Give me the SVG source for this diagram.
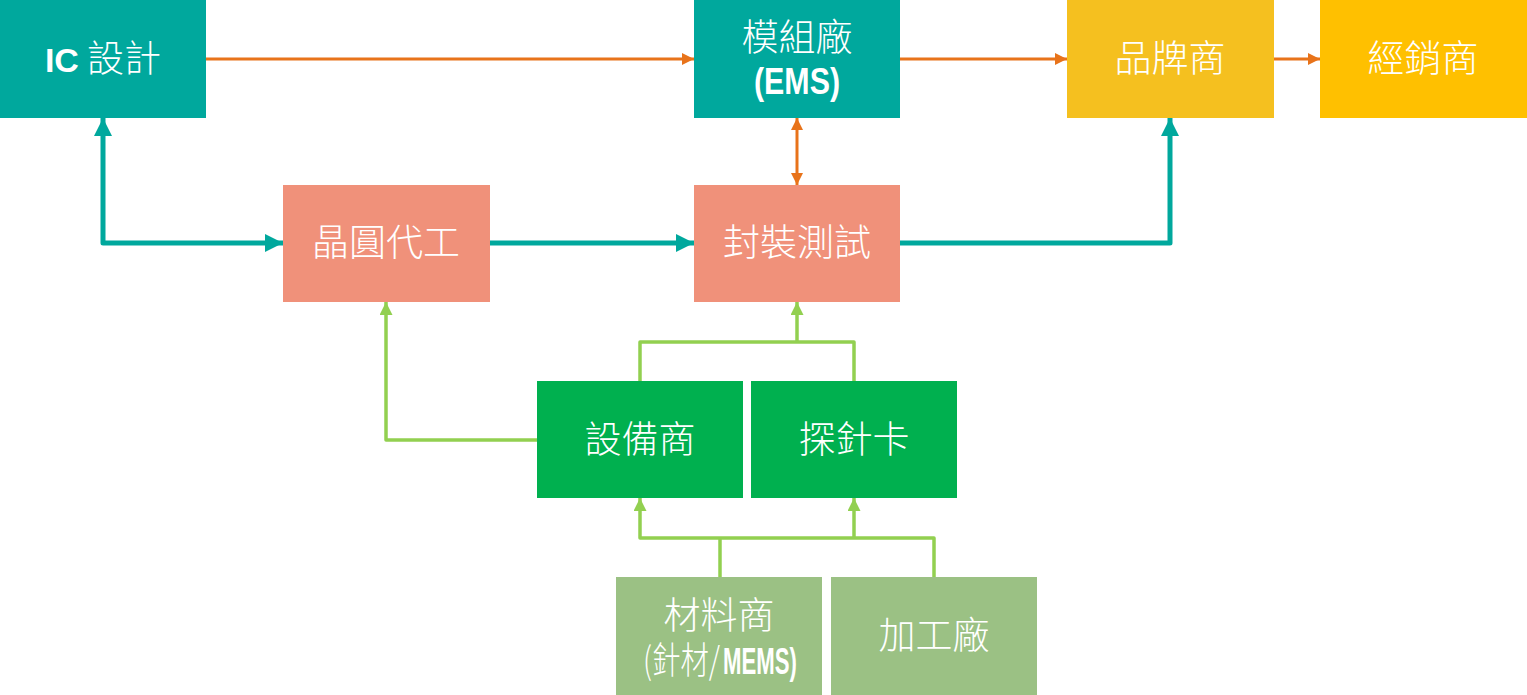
<svg xmlns="http://www.w3.org/2000/svg" width="1527" height="695" viewBox="0 0 1527 695">
<defs>
<style>
.t{fill:#fff;font-family:"Noto Sans CJK TC","Noto Sans CJK SC",sans-serif;font-size:37px;text-anchor:middle;font-weight:300}
.b{font-family:"Liberation Sans","Noto Sans CJK TC",sans-serif;font-weight:bold}
.o{stroke:#E8731A;stroke-width:3;fill:none}
.tl{stroke:#00A89D;stroke-width:5;fill:none;stroke-linejoin:round}
.g{stroke:#92D050;stroke-width:3.5;fill:none;stroke-linejoin:round}
</style>
<marker id="mo" markerWidth="12" markerHeight="12" refX="12" refY="6" orient="auto-start-reverse" markerUnits="userSpaceOnUse"><path d="M0,0L12,6L0,12z" fill="#E8731A"/></marker>
<marker id="mt" markerWidth="18" markerHeight="18" refX="18" refY="9" orient="auto-start-reverse" markerUnits="userSpaceOnUse"><path d="M0,0L18,9L0,18z" fill="#00A89D"/></marker>
<marker id="mg" markerWidth="13" markerHeight="13" refX="13" refY="6.5" orient="auto-start-reverse" markerUnits="userSpaceOnUse"><path d="M0,0L13,6.5L0,13z" fill="#92D050"/></marker>
</defs>
<g id="connectors">
<path class="o" d="M206,59H694" marker-end="url(#mo)"/>
<path class="o" d="M900,59H1067" marker-end="url(#mo)"/>
<path class="o" d="M1274,59H1320" marker-end="url(#mo)"/>
<path class="o" d="M797,118V185" marker-start="url(#mo)" marker-end="url(#mo)"/>
<path class="tl" d="M103,118V243H283" marker-start="url(#mt)" marker-end="url(#mt)"/>
<path class="tl" d="M490,243H694" marker-end="url(#mt)"/>
<path class="tl" d="M900,243H1170V118" marker-end="url(#mt)"/>
<path class="g" d="M640,381V342H854V381"/>
<path class="g" d="M797,342V302" marker-end="url(#mg)"/>
<path class="g" d="M537,440H386V302" marker-end="url(#mg)"/>
<path class="g" d="M720,577V538"/>
<path class="g" d="M934,577V538H640V498" marker-end="url(#mg)"/>
<path class="g" d="M854,538V498" marker-end="url(#mg)"/>
</g>
<g id="ic"><rect x="0" y="0" width="206" height="118" fill="#00A89D"/><text class="t" x="103" y="72"><tspan class="b" font-size="34">IC</tspan> 設計</text></g>
<g id="ems"><rect x="694" y="0" width="206" height="118" fill="#00A89D"/><text class="t" x="797" y="51">模組廠</text><text class="t b" x="797" y="94" font-size="31" textLength="86" lengthAdjust="spacingAndGlyphs">(EMS)</text></g>
<g id="brand"><rect x="1067" y="0" width="207" height="118" fill="#F5C01F"/><text class="t" x="1170" y="72">品牌商</text></g>
<g id="dist"><rect x="1320" y="0" width="207" height="118" fill="#FFC000"/><text class="t" x="1423" y="72">經銷商</text></g>
<g id="foundry"><rect x="283" y="185" width="207" height="117" fill="#F0917A"/><text class="t" x="386" y="256">晶圓代工</text></g>
<g id="pkg"><rect x="694" y="185" width="206" height="117" fill="#F0917A"/><text class="t" x="797" y="256">封裝測試</text></g>
<g id="equip"><rect x="537" y="381" width="206" height="117" fill="#00B04F"/><text class="t" x="640" y="453">設備商</text></g>
<g id="probe"><rect x="751" y="381" width="206" height="117" fill="#00B04F"/><text class="t" x="854" y="453">探針卡</text></g>
<g id="material"><rect x="616" y="577" width="206" height="118" fill="#9BC184"/><text class="t" x="719" y="629" font-size="36">材料商</text><text class="t" x="643" y="674" font-size="24" style="text-anchor:start" textLength="77" lengthAdjust="spacingAndGlyphs">(針材/</text><text class="t b" x="723" y="674" font-size="25" style="text-anchor:start" textLength="74" lengthAdjust="spacingAndGlyphs">MEMS)</text></g>
<g id="proc"><rect x="831" y="577" width="206" height="118" fill="#9BC184"/><text class="t" x="934" y="649">加工廠</text></g>
</svg>
